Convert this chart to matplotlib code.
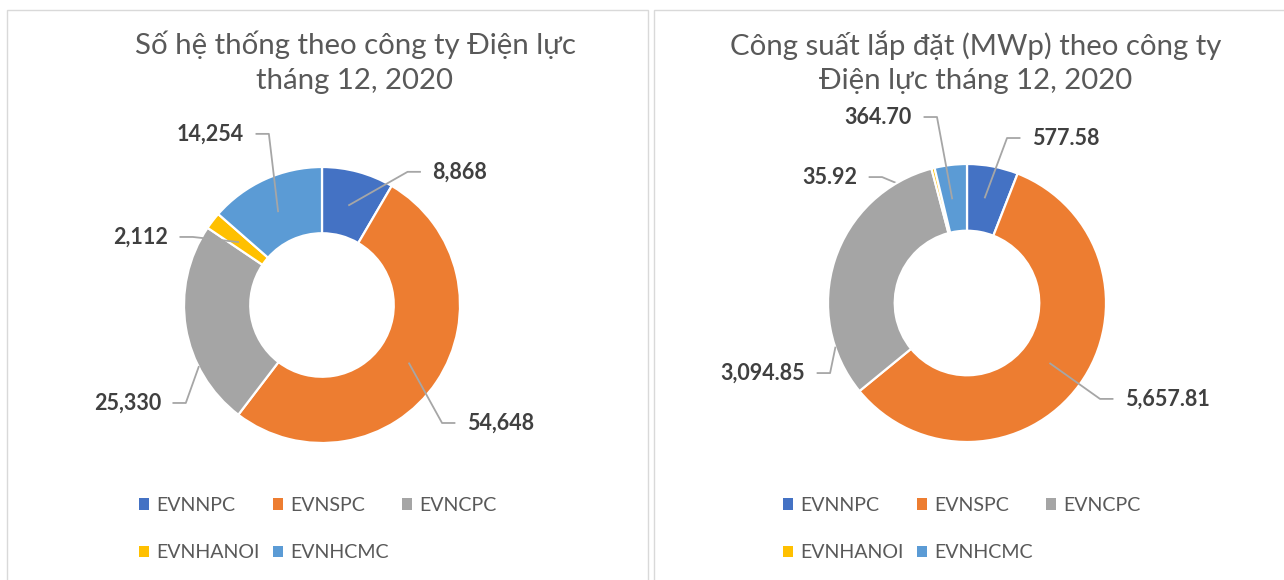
import matplotlib.pyplot as plt
import numpy as np
from matplotlib.patches import Patch, Rectangle

plt.rcParams['font.family'] = ['Lato', 'Noto Sans', 'DejaVu Sans']

# data
companies = ['EVNNPC', 'EVNSPC', 'EVNCPC', 'EVNHANOI', 'EVNHCMC']
colors = ['#4472C4', '#ED7D31', '#A5A5A5', '#FFC000', '#5B9BD5']

systems = [8868, 54648, 25330, 2112, 14254]
systems_labels = ['8,868', '54,648', '25,330', '2,112', '14,254']

capacity = [577.58, 5657.81, 3094.85, 35.92, 364.70]
capacity_labels = ['577.58', '5,657.81', '3,094.85', '35.92', '364.70']

title_left = ['Số hệ thống theo công ty Điện lực', 'tháng 12, 2020']
title_right = ['Công suất lắp đặt (MWp) theo công ty', 'Điện lực tháng 12, 2020']

# label layout (in radii units): text x, text y, ha,
# leader anchor (fraction along wedge clockwise, radius), line behind wedges
left_layout = [
    (0.80, 0.965, 'left', 0.50, 0.75, False),
    (1.05, -0.855, 'left', 0.50, 0.76, False),
    (-1.167, -0.71, 'right', 0.30, 1.0, False),
    (-1.116, 0.493, 'right', 0.40, 0.76, False),
    (-0.565, 1.24, 'right', 0.485, 0.75, False),
]
right_layout = [
    (0.468, 1.187, 'left', 0.45, 0.77, False),
    (1.137, -0.69, 'left', 0.50, 0.74, False),
    (-1.165, -0.504, 'right', 0.18, 1.0, False),
    (-0.791, 0.906, 'right', 0.50, 0.75, True),
    (-0.396, 1.338, 'right', 0.40, 0.76, False),
]

W, H = 1284, 580
fig = plt.figure(figsize=(W / 100, H / 100), dpi=100)

# panel borders
for x0, x1 in [(7, 648), (654, 1290)]:
    fig.patches.append(Rectangle((x0 / W, -0.05), (x1 - x0) / W, 1 - 10 / H + 0.05,
                                 transform=fig.transFigure, fill=False,
                                 edgecolor='#d9d9d9', linewidth=1))


def donut(cx, cy, R, values, labels, layout, title, tx, tsize):
    half = 200
    ax = fig.add_axes([(cx - half) / W, (H - cy - half) / H, 2 * half / W, 2 * half / H])
    lim = half / R
    wedges, _ = ax.pie(values, colors=colors, startangle=90, counterclock=False,
                       radius=1.0, wedgeprops=dict(width=0.48, edgecolor='white', linewidth=1.6))
    ax.set_xlim(-lim, lim)
    ax.set_ylim(-lim, lim)
    ax.set_aspect('equal')
    ax.axis('off')

    for w, lab, (x, y, ha, frac, r, behind) in zip(wedges, labels, layout):
        # clockwise pie: theta2 is where the wedge starts
        th = np.deg2rad(w.theta2 - frac * (w.theta2 - w.theta1))
        sx, sy = r * np.cos(th), r * np.sin(th)
        s = 1 if ha == 'left' else -1
        ax.plot([sx, x - s * 0.18, x - s * 0.09], [sy, y, y], color='#a6a6a6',
                linewidth=1.3, clip_on=False, zorder=0 if behind else 3)
        ax.text(x, y, lab, ha=ha, va='center', fontsize=15.5, fontweight='bold',
                color='#404040')

    fig.text(tx / W, 1 - 45 / H, title[0], ha='center', va='center', fontsize=tsize, color='#595959')
    fig.text(tx / W, 1 - 81 / H, title[1], ha='center', va='center', fontsize=tsize, color='#595959')

    order = [0, 3, 1, 4, 2]
    handles = [Patch(facecolor=colors[i], edgecolor='none') for i in order]
    names = [companies[i] for i in order]
    return ax, handles, names


ax1, h1, n1 = donut(322, 305, 138, systems, systems_labels, left_layout, title_left, 355, 21.2)
ax2, h2, n2 = donut(967, 303, 139, capacity, capacity_labels, right_layout, title_right, 976, 21.2)

for ax, h, n, lx in [(ax1, h1, n1, 139), (ax2, h2, n2, 783)]:
    fig.legend(h, n, ncol=3, loc='upper left', bbox_to_anchor=(lx / W, 1 - 497 / H),
               frameon=False, fontsize=14.1, labelcolor='#595959', handlelength=0.5,
               handleheight=0.5, handletextpad=0.4, columnspacing=0.65,
               labelspacing=1.55, borderpad=0, borderaxespad=0)

fig.savefig('out.png', dpi=100)
